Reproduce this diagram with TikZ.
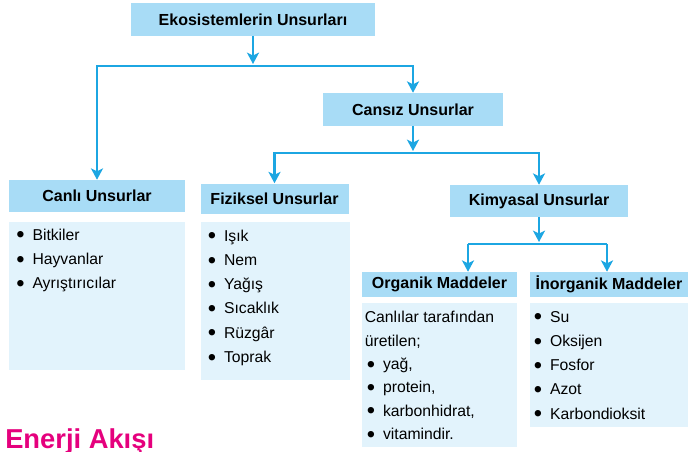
\documentclass[tikz,border=0pt]{standalone}
\usepackage{fontspec}
\setmainfont{Liberation Sans}
\usetikzlibrary{arrows.meta,positioning}
\definecolor{headblue}{HTML}{A8DCF6}
\definecolor{listblue}{HTML}{E2F3FC}
\definecolor{linkblue}{HTML}{1CA6E2}
\definecolor{titlepink}{HTML}{E5007D}
\newcommand\itm{\makebox[0.8em][c]{\raisebox{-0.17em}{\scalebox{1.5}{\textbullet}}}\hspace{0.36em}}
\tikzset{
  head/.style={fill=headblue, inner sep=0pt, font=\fontsize{12}{14}\selectfont\bfseries},
  listbox/.style={fill=listblue, inner sep=0pt},
  listtext/.style={anchor=base west, align=left, inner sep=0pt, font=\fontsize{11.8}{18.2}\selectfont},
  link/.style={draw=linkblue, line width=1.6pt, -{Stealth[length=8.5pt,width=9pt,inset=2.2pt]}},
  bar/.style={draw=linkblue, line width=1.6pt},
}
\begin{document}
\begin{tikzpicture}[x=0.75pt,y=-0.75pt]
\clip (0,0) rectangle (688,451);
% heading boxes
\node[head, minimum width=183pt, minimum height=24.75pt] (eko) at (253,19.5) {Ekosistemlerin Unsurları};
\node[head, minimum width=135pt, minimum height=24.75pt] (cansiz) at (413,109.5) {Cansız Unsurlar};
\node[head, minimum width=132pt, minimum height=24pt] (canli) at (97,196) {Canlı Unsurlar};
\node[head, minimum width=111pt, minimum height=22.5pt] (fiz) at (274.5,198.5) {Fiziksel Unsurlar};
\node[head, minimum width=133.5pt, minimum height=24pt] (kim) at (539,201) {Kimyasal Unsurlar};
\node[head, minimum width=116.25pt, minimum height=18.75pt] (org) at (439.5,284.5) {Organik Maddeler};
\node[head, minimum width=118.5pt, minimum height=18.75pt] (inorg) at (609,284.5) {İnorganik Maddeler};
% list boxes
\node[listbox, minimum width=132pt, minimum height=111pt] (canlilist) at (97,296) {};
\node[listbox, minimum width=111.75pt, minimum height=118.5pt] (fizlist) at (275.5,301) {};
\node[listbox, minimum width=116.25pt, minimum height=108pt] (orglist) at (439.5,375) {};
\node[listbox, minimum width=118.5pt, minimum height=93pt] (inorglist) at (609,365) {};
% list texts (placed at the baseline of the last line)
\node[listtext] (canlitext) at (14,288.6) {\itm Bitkiler\\ \itm Hayvanlar\\ \itm Ayrıştırıcılar};
\node[listtext] (fiztext) at (205.5,362.5) {\itm Işık\\ \itm Nem\\ \itm Yağış\\ \itm Sıcaklık\\ \itm Rüzgâr\\ \itm Toprak};
\node[listtext, font=\fontsize{11.8}{17.5}\selectfont] (orgtext) at (364.5,439.5) {Canlılar tarafından\\ üretilen;\\ \itm yağ,\\ \itm protein,\\ \itm karbonhidrat,\\ \itm vitamindir.};
\node[listtext] (inorgtext) at (531.5,419.2) {\itm Su\\ \itm Oksijen\\ \itm Fosfor\\ \itm Azot\\ \itm Karbondioksit};
% connectors
\coordinate (j1) at (253,66);
\coordinate (j2) at (413,153);
\coordinate (o1) at (468,244);
\coordinate (o2) at (607,244);
\draw[link, shorten >=1.5pt] (eko) -- (j1);
\draw[link] (j1) -| (canli);
\draw[link] (j1) -| (cansiz);
\draw[link, shorten >=1.5pt] (cansiz) -- (j2);
\draw[link] (j2) -| (fiz);
\draw[link] (j2) -| (kim);
\draw[link, shorten >=1.5pt] (kim) -- (kim |- o1);
\draw[bar] (o1) -- (o2);
\draw[link] (o1) -- (o1 |- org.north);
\draw[link] (o2) -- (o2 |- inorg.north);
% title
\node[anchor=base west, inner sep=0pt, text=titlepink, font=\fontsize{20.5}{22}\selectfont\bfseries] (title) at (5,448) {Enerji Akışı};
\end{tikzpicture}
\end{document}
